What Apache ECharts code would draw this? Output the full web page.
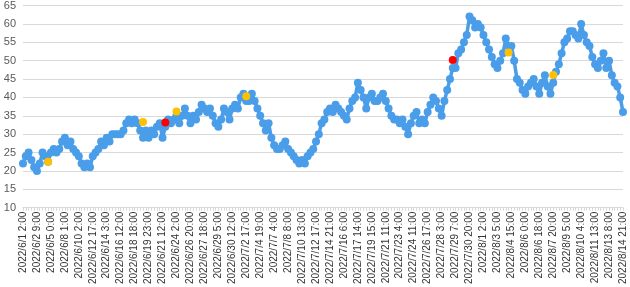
<!DOCTYPE html>
<html>
<head>
<meta charset="utf-8">
<script src="https://cdn.jsdelivr.net/npm/echarts@6/dist/echarts.min.js"></script>
<style>
html,body{margin:0;padding:0;background:#fff;}
#chart{width:630px;height:287px;}
</style>
</head>
<body>
<div id="chart"></div>
<script>
// Tick labels shown on the category axis (every 5th category)
var tickLabels = [
  "2022/6/1 2:00","2022/6/2 9:00","2022/6/5 0:00","2022/6/8 1:00","2022/6/10 2:00",
  "2022/6/12 17:00","2022/6/14 3:00","2022/6/16 12:00","2022/6/18 18:00","2022/6/19 23:00",
  "2022/6/21 12:00","2022/6/24 2:00","2022/6/26 20:00","2022/6/27 18:00","2022/6/29 5:00",
  "2022/6/30 12:00","2022/7/2 17:00","2022/7/4 19:00","2022/7/7 4:00","2022/7/8 8:00",
  "2022/7/10 13:00","2022/7/12 17:00","2022/7/14 21:00","2022/7/16 6:00","2022/7/17 14:00",
  "2022/7/19 15:00","2022/7/21 11:00","2022/7/23 4:00","2022/7/24 11:00","2022/7/26 17:00",
  "2022/7/28 3:00","2022/7/29 7:00","2022/7/30 20:00","2022/8/1 2:00","2022/8/3 5:00",
  "2022/8/4 15:00","2022/8/6 0:00","2022/8/6 18:00","2022/8/7 20:00","2022/8/9 5:00",
  "2022/8/10 4:00","2022/8/11 13:00","2022/8/13 8:00","2022/8/14 21:00"
];
var stepsPerLabel = 5;

// Main series values
var values = [
  22,24,25,23,21,20,22,25,24,22.5,
  25,26,25,26,28,29,27,28,26,25,
  24,22,21,22,21,24,25,26,28,27,
  29,28,30,30,30,30,31,33,34,33,
  34,33,31,29,31,29,31,30,32,33,
  29,32,34,33,34,35,33,35,37,35,
  33,35,34,36,38,37,36,37,35,33,
  32,34,37,36,34,37,38,37,40,41,
  39,39,41,39,37,35,33,31,33,29,
  27,26,26,27,28,26,25,24,23,22,
  23,22,24,25,26,28,30,33,34,36,
  37,36,38,37,36,35,34,37,39,40,
  44,42,40,37,40,41,39,39,40,41,
  39,37,35,34,34,33,34,32,30,33,
  35,36,33,34,33,36,38,40,39,37,
  35,39,42,45,48,48,52,53,55,57,
  62,61,59,60,59,57,55,53,51,49,
  48,50,52,56,54,54,50,45,44,42,
  41,43,44,45,43,41,44,46,43,41,
  44,47,49,52,55,56,58,58,57,56,
  60,57,55,54,51,49,48,50,52,48,
  50,46,44,43,40,36
];

// Highlighted points
var yellowIndex = [9, 43, 55, 80, 174, 190];
var yellowValues = [22.5, 33.3, 36.2, 40.3, 52.2, 46.1];
var redIndex = [51, 154];
var redValues = [33.2, 50.2];

// Build category list: each tick label followed by hidden intermediate categories
var categories = [];
for (var j = 0; j < tickLabels.length; j++) {
  categories.push(tickLabels[j]);
  if (j < tickLabels.length - 1) {
    for (var k = 1; k < stepsPerLabel; k++) categories.push(tickLabels[j] + " #" + k);
  }
}

var yellowData = yellowIndex.map(function (ix, n) { return [ix, yellowValues[n]]; });
var redData = redIndex.map(function (ix, n) { return [ix, redValues[n]]; });

var chart = echarts.init(document.getElementById('chart'), null, {renderer: 'canvas'});
chart.setOption({
  animation: false,
  grid: {left: 23, right: 7, top: 5.5, bottom: 77.7, containLabel: false},
  xAxis: {
    type: 'category',
    data: categories,
    boundaryGap: false,
    axisLine: {show: true, lineStyle: {color: '#d9d9d9', width: 1}},
    axisTick: {show: true, interval: 0, length: 3, lineStyle: {color: '#d9d9d9'}},
    axisLabel: {
      interval: stepsPerLabel - 1,
      rotate: 90,
      margin: 4,
      color: '#333333',
      fontSize: 10,
      fontFamily: 'Liberation Sans'
    },
    splitLine: {show: false}
  },
  yAxis: {
    type: 'value',
    min: 10, max: 65, interval: 5,
    axisLine: {show: false},
    axisTick: {show: false},
    axisLabel: {color: '#595959', fontSize: 11, fontFamily: 'Liberation Sans', margin: 7},
    splitLine: {lineStyle: {color: '#d9d9d9', width: 1}}
  },
  series: [
    {
      type: 'line',
      data: values,
      symbol: 'circle',
      symbolSize: 8,
      showAllSymbol: true,
      lineStyle: {color: '#4a9de9', width: 3.5},
      itemStyle: {color: '#4a9de9'},
      z: 2
    },
    {
      type: 'scatter',
      data: yellowData,
      symbol: 'circle',
      symbolSize: 8,
      itemStyle: {color: '#ffc000', opacity: 1},
      z: 3
    },
    {
      type: 'scatter',
      data: redData,
      symbol: 'circle',
      symbolSize: 8,
      itemStyle: {color: '#ff0000', opacity: 1},
      z: 4
    }
  ]
});
</script>
</body>
</html>
